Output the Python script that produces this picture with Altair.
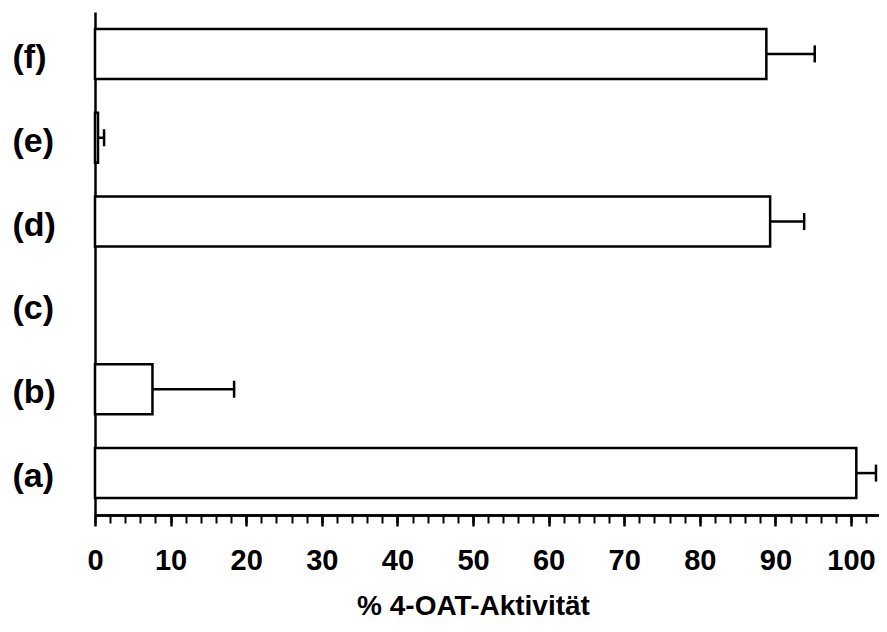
import altair as alt
import pandas as pd

# Data
categories = ["(f)", "(e)", "(d)", "(c)", "(b)", "(a)"]
activity = [88.8, 0.4, 89.3, 0.0, 7.6, 100.7]
error = [6.4, 0.8, 4.5, 0.0, 10.8, 2.6]

major_ticks = list(range(0, 101, 10))
minor_ticks = list(range(0, 103, 2))

df = pd.DataFrame({"cat": categories, "pct": activity, "err": error})
df["hi"] = df["pct"] + df["err"]

FONT = "Liberation Sans"

xscale = alt.Scale(domain=[0, 103.7], nice=False, zero=True)
yscale = alt.Scale(paddingInner=0.404, paddingOuter=0.202)

y_axis = alt.Axis(
    title=None, ticks=False, tickSize=0, domain=True, domainColor="black",
    domainWidth=2.5, labelFont=FONT, labelFontSize=34, labelFontWeight="bold",
    labelColor="black", labelPadding=83, labelAlign="left",
    labelBaseline="alphabetic", labelOffset=14, grid=False,
)

major_axis = alt.Axis(
    orient="bottom", values=major_ticks, tickSize=11, tickWidth=2.5,
    tickColor="black", domainColor="black", domainWidth=2.5,
    labelFont=FONT, labelFontSize=29, labelFontWeight="bold",
    labelColor="black", labelBaseline="alphabetic", labelPadding=43,
    labelFlush=False, labelOverlap=False, grid=False,
    title="% 4-OAT-Aktivität", titleFont=FONT, titleFontSize=28,
    titleFontWeight="bold", titleColor="black", titleX=378, titleY=99,
    titleAlign="center", titleBaseline="alphabetic",
)

minor_axis = alt.Axis(
    orient="bottom", values=minor_ticks, tickSize=8, tickWidth=2,
    tickColor="black", labels=False, domainColor="black", domainWidth=2.5,
    title=None, grid=False,
)

base = alt.Chart(df)

bars = base.mark_bar(fill="white", stroke="black", strokeWidth=2.5).encode(
    x=alt.X("pct:Q", scale=xscale, axis=major_axis),
    y=alt.Y("cat:N", sort=categories, scale=yscale, axis=y_axis),
    opacity=alt.condition("datum.pct > 0", alt.value(1), alt.value(0)),
)

rules = base.mark_rule(color="black", strokeWidth=2.5).encode(
    x=alt.X("pct:Q", scale=xscale, axis=minor_axis),
    x2="hi:Q",
    y=alt.Y("cat:N", sort=categories),
    opacity=alt.condition("datum.err > 0", alt.value(1), alt.value(0)),
)

caps = base.mark_tick(color="black", thickness=2.5, size=17).encode(
    x=alt.X("hi:Q", scale=xscale, axis=None),
    y=alt.Y("cat:N", sort=categories),
    opacity=alt.condition("datum.err > 0", alt.value(1), alt.value(0)),
)

chart = (
    alt.layer(bars, rules, caps)
    .resolve_axis(x="independent")
    .properties(
        width=784, height=503,
        autosize=alt.AutoSizeParams(type="none"),
        padding={"left": 87, "top": 4, "right": 0, "bottom": 106},
        view=alt.ViewBackground(stroke=None, strokeWidth=0),
    )
    .configure_view(stroke=None, strokeWidth=0)
    .configure(background="white")
)

chart.save("out.html", embed_options={"renderer": "svg", "actions": False})
